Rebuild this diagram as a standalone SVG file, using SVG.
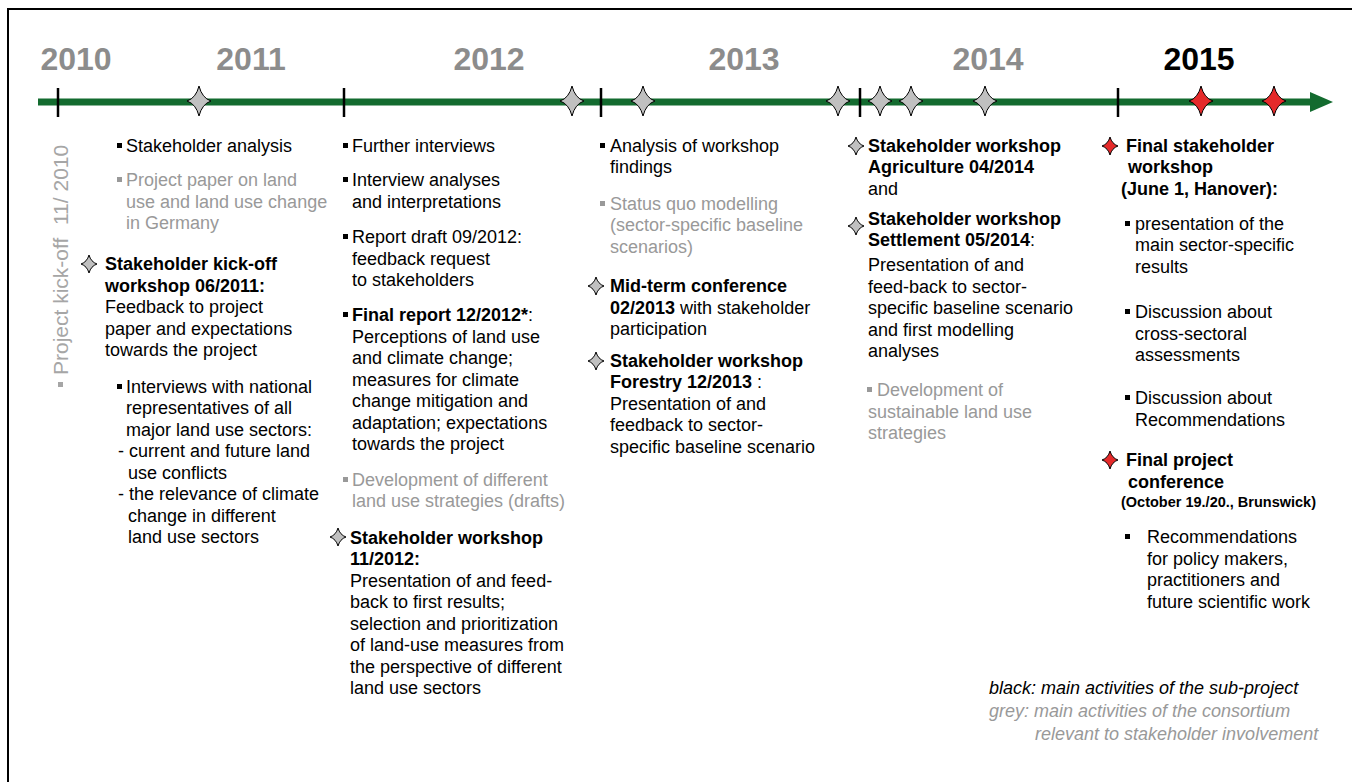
<svg xmlns="http://www.w3.org/2000/svg" xmlns:xlink="http://www.w3.org/1999/xlink" width="1352" height="782" viewBox="0 0 1352 782">
<style>
text{font-family:"Liberation Sans",Arial,sans-serif;font-size:18px;fill:#000}
.g{fill:#999}
.b{font-weight:bold}
.yr{font-size:32px;font-weight:bold;fill:#8c8c8c;text-anchor:middle}
.lg{font-size:18px;font-style:italic}
.sm{font-size:14.5px;font-weight:bold}
.vt{font-size:21px;fill:#a6a6a6}
.bk{fill:#000}
.bg{fill:#999}
.sg{fill:#c0c0c0;stroke:#000;stroke-width:1}
.sr{fill:#e52a2a;stroke:#000;stroke-width:1}
.tick{stroke:#000;stroke-width:2.5}
</style>
<defs>
<path id="star" d="M0,-15 Q3,-3 12,0 Q3,3 0,15 Q-3,3 -12,0 Q-3,-3 0,-15Z"/>
<path id="sstar" d="M0,-9 Q2,-2 8,0 Q2,2 0,9 Q-2,2 -8,0 Q-2,-2 0,-9Z"/>
<rect id="bul" width="5" height="5"/>
</defs>
<rect width="1352" height="782" fill="#fff"/>
<path d="M8,782 V9 H1352" fill="none" stroke="#000" stroke-width="2"/>

<g id="years">
<text class="yr" x="76" y="70">2010</text>
<text class="yr" x="251" y="70">2011</text>
<text class="yr" x="489" y="70">2012</text>
<text class="yr" x="744" y="70">2013</text>
<text class="yr" x="988" y="70">2014</text>
<text class="yr" x="1199" y="70" style="fill:#000">2015</text>
</g>

<g id="connectors">
<line x1="38" y1="102" x2="1312" y2="102" stroke="#136b2f" stroke-width="7"/>
<path d="M1310,92 L1333,102 L1310,112Z" fill="#136b2f"/>
<line class="tick" x1="58" y1="88" x2="58" y2="117"/>
<line class="tick" x1="344" y1="88" x2="344" y2="117"/>
<line class="tick" x1="601" y1="88" x2="601" y2="117"/>
<line class="tick" x1="860" y1="88" x2="860" y2="117"/>
<line class="tick" x1="1118" y1="88" x2="1118" y2="117"/>
</g>

<g id="timeline-stars">
<use href="#star" x="199" y="101" class="sg"/>
<use href="#star" x="572" y="101" class="sg"/>
<use href="#star" x="643" y="101" class="sg"/>
<use href="#star" x="838" y="101" class="sg"/>
<use href="#star" x="880" y="101" class="sg"/>
<use href="#star" x="911" y="101" class="sg"/>
<use href="#star" x="985" y="101" class="sg"/>
<use href="#star" x="1201" y="101" class="sr"/>
<use href="#star" x="1274" y="101" class="sr"/>
</g>

<g id="kickoff">
<g transform="rotate(-90)">
<rect x="-387" y="58" width="5" height="5" fill="#a6a6a6"/>
<text class="vt" x="-375" y="68">Project kick-off</text>
<text class="vt" x="-225" y="68">11/ 2010</text>
</g>
</g>

<g id="col2011">
<use href="#bul" x="117" y="143" class="bk"/>
<text x="126" y="152">Stakeholder analysis</text>
<use href="#bul" x="117" y="177" class="bg"/>
<text class="g" x="126" y="186">Project paper on land</text>
<text class="g" x="126" y="208">use and land use change</text>
<text class="g" x="126" y="229">in Germany</text>
<use href="#sstar" x="89" y="264" class="sg"/>
<text class="b" x="105" y="270">Stakeholder kick-off</text>
<text class="b" x="105" y="292">workshop 06/2011:</text>
<text x="105" y="313">Feedback to project</text>
<text x="105" y="335">paper and expectations</text>
<text x="105" y="356">towards the project</text>
<use href="#bul" x="117" y="384" class="bk"/>
<text x="126" y="393">Interviews with national</text>
<text x="126" y="414">representatives of all</text>
<text x="126" y="436">major land use sectors:</text>
<text x="118" y="457">- current and future land</text>
<text x="128" y="479">use conflicts</text>
<text x="118" y="500">- the relevance of climate</text>
<text x="128" y="522">change in different</text>
<text x="128" y="543">land use sectors</text>
</g>

<g id="col2012">
<use href="#bul" x="343" y="143" class="bk"/>
<text x="352" y="152">Further interviews</text>
<use href="#bul" x="343" y="177" class="bk"/>
<text x="352" y="186">Interview analyses</text>
<text x="352" y="208">and interpretations</text>
<use href="#bul" x="343" y="234" class="bk"/>
<text x="352" y="243">Report draft 09/2012:</text>
<text x="352" y="265">feedback request</text>
<text x="352" y="286">to stakeholders</text>
<use href="#bul" x="343" y="312" class="bk"/>
<text x="352" y="321"><tspan class="b">Final report 12/2012*</tspan>:</text>
<text x="352" y="343">Perceptions of land use</text>
<text x="352" y="364">and climate change;</text>
<text x="352" y="386">measures for climate</text>
<text x="352" y="407">change mitigation and</text>
<text x="352" y="429">adaptation; expectations</text>
<text x="352" y="450">towards the project</text>
<use href="#bul" x="343" y="477" class="bg"/>
<text class="g" x="352" y="486">Development of different</text>
<text class="g" x="352" y="507">land use strategies (drafts)</text>
<use href="#sstar" x="338" y="537" class="sg"/>
<text class="b" x="350" y="544">Stakeholder workshop</text>
<text class="b" x="350" y="565">11/2012:</text>
<text x="350" y="587">Presentation of and feed-</text>
<text x="350" y="608">back to first results;</text>
<text x="350" y="630">selection and prioritization</text>
<text x="350" y="651">of land-use measures from</text>
<text x="350" y="673">the perspective of different</text>
<text x="350" y="694">land use sectors</text>
</g>

<g id="col2013">
<use href="#bul" x="600" y="143" class="bk"/>
<text x="610" y="152">Analysis of workshop</text>
<text x="610" y="173">findings</text>
<use href="#bul" x="600" y="201" class="bg"/>
<text class="g" x="610" y="210">Status quo modelling</text>
<text class="g" x="610" y="231">(sector-specific baseline</text>
<text class="g" x="610" y="253">scenarios)</text>
<use href="#sstar" x="596" y="286" class="sg"/>
<text class="b" x="610" y="292">Mid-term conference</text>
<text x="610" y="314"><tspan class="b">02/2013</tspan> with stakeholder</text>
<text x="610" y="335">participation</text>
<use href="#sstar" x="596" y="361" class="sg"/>
<text class="b" x="610" y="367">Stakeholder workshop</text>
<text x="610" y="388"><tspan class="b">Forestry 12/2013</tspan>  :</text>
<text x="610" y="410">Presentation of and</text>
<text x="610" y="431">feedback to sector-</text>
<text x="610" y="453">specific baseline scenario</text>
</g>

<g id="col2014">
<use href="#sstar" x="856" y="146" class="sg"/>
<text class="b" x="868" y="152">Stakeholder workshop</text>
<text class="b" x="868" y="173">Agriculture 04/2014</text>
<text x="868" y="195">and</text>
<use href="#sstar" x="856" y="226" class="sg"/>
<text class="b" x="868" y="225">Stakeholder workshop</text>
<text x="868" y="246"><tspan class="b">Settlement 05/2014</tspan>:</text>
<text x="868" y="271">Presentation of and</text>
<text x="868" y="293">feed-back to sector-</text>
<text x="868" y="314">specific baseline scenario</text>
<text x="868" y="336">and first modelling</text>
<text x="868" y="357">analyses</text>
<use href="#bul" x="867" y="387" class="bg"/>
<text class="g" x="877" y="396">Development of</text>
<text class="g" x="868" y="418">sustainable land use</text>
<text class="g" x="868" y="439">strategies</text>
</g>

<g id="col2015">
<use href="#sstar" x="1110" y="146" class="sr"/>
<text class="b" x="1126" y="152">Final stakeholder</text>
<text class="b" x="1128" y="173">workshop</text>
<text class="b" x="1121" y="195">(June 1, Hanover):</text>
<use href="#bul" x="1125" y="221" class="bk"/>
<text x="1135" y="230">presentation of the</text>
<text x="1135" y="251">main sector-specific</text>
<text x="1135" y="273">results</text>
<use href="#bul" x="1125" y="309" class="bk"/>
<text x="1135" y="318">Discussion about</text>
<text x="1135" y="340">cross-sectoral</text>
<text x="1135" y="361">assessments</text>
<use href="#bul" x="1125" y="395" class="bk"/>
<text x="1135" y="404">Discussion about</text>
<text x="1135" y="426">Recommendations</text>
<use href="#sstar" x="1110" y="460" class="sr"/>
<text class="b" x="1126" y="466">Final project</text>
<text class="b" x="1128" y="488">conference</text>
<text class="sm" x="1121" y="507">(October 19./20., Brunswick)</text>
<use href="#bul" x="1125" y="534" class="bk"/>
<text x="1147" y="543">Recommendations</text>
<text x="1147" y="565">for policy makers,</text>
<text x="1147" y="586">practitioners and</text>
<text x="1147" y="608">future scientific work</text>
</g>

<g id="legend">
<text class="lg" x="989" y="694">black: main activities of the sub-project</text>
<text class="lg g" x="989" y="717">grey: main activities of the consortium</text>
<text class="lg g" x="1035" y="740">relevant to stakeholder involvement</text>
</g>
</svg>
